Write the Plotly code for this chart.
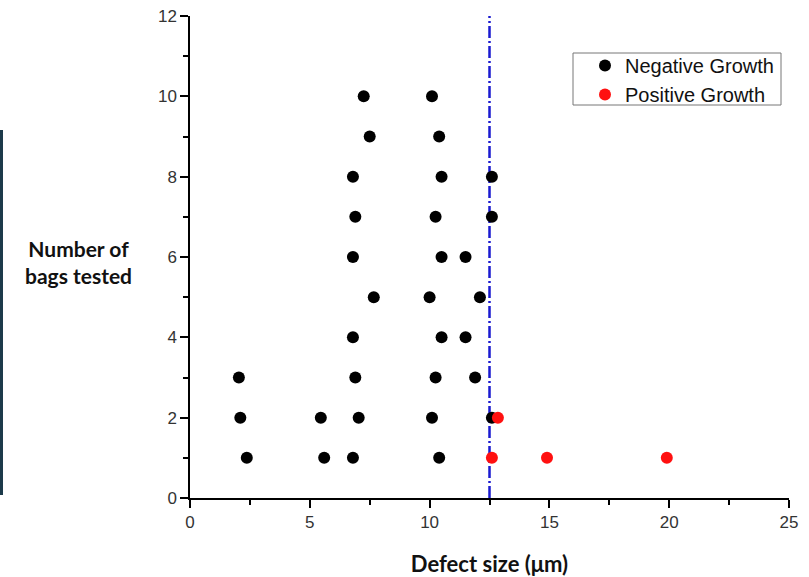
import plotly.graph_objects as go

# Data
neg_x = [7.25, 10.1, 7.5, 10.4, 6.8, 10.5, 12.6, 6.9, 10.25, 12.6, 6.8, 10.5, 11.5,
         7.67, 10.0, 12.1, 6.8, 10.5, 11.5, 2.04, 6.9, 10.25, 11.9, 2.1, 5.46, 7.04,
         10.1, 12.6, 2.37, 5.6, 6.8, 10.4]
neg_y = [10, 10, 9, 9, 8, 8, 8, 7, 7, 7, 6, 6, 6, 5, 5, 5, 4, 4, 4, 3, 3, 3, 3,
         2, 2, 2, 2, 2, 1, 1, 1, 1]
pos_x = [12.85, 12.6, 14.9, 19.9]
pos_y = [2, 1, 1, 1]
threshold = 12.5
x_ticks = [0, 5, 10, 15, 20, 25]
y_ticks = [0, 2, 4, 6, 8, 10, 12]

PW, PH = 599, 482  # plot area size in px (for paper-coordinate placement)

fig = go.Figure()
fig.add_trace(go.Scatter(x=neg_x, y=neg_y, mode="markers", name="Negative Growth",
                         marker=dict(color="black", size=12)))
fig.add_trace(go.Scatter(x=pos_x, y=pos_y, mode="markers", name="Positive Growth",
                         marker=dict(color="#ff1010", size=12)))
fig.add_shape(type="line", xref="x", yref="y", x0=threshold, x1=threshold, y0=0, y1=12,
              line=dict(color="#1a1ad0", width=2.5, dash="12px,3px,2px,3px"), layer="below")

# artifact bar on the left edge
fig.add_shape(type="rect", xref="paper", yref="paper", x0=-190/PW, x1=-187/PW,
              y0=(498-495)/PH, y1=(498-130)/PH, fillcolor="#1c3a4a", line=dict(width=0))

# legend frame
fig.add_shape(type="rect", xref="paper", yref="paper", x0=(573-190)/PW, x1=(781-190)/PW,
              y0=(498-105)/PH, y1=(498-53)/PH, fillcolor="white",
              line=dict(color="#777", width=1), layer="below")

fig.add_annotation(text="<b>Number of<br>bags tested</b>", xref="paper", yref="paper",
                   x=-112/PW, y=(498-262)/PH, xanchor="center", yanchor="middle",
                   showarrow=False, align="center",
                   font=dict(family="Lato, Open Sans, sans-serif", size=21, color="#111"))

fig.update_layout(
    width=809, height=577,
    margin=dict(l=190, r=20, t=16, b=79, autoexpand=False),
    plot_bgcolor="white", paper_bgcolor="white",
    font=dict(family="Liberation Sans, Arial, sans-serif", size=17, color="#333"),
    legend=dict(x=(585-190)/PW, y=(498-80)/PH, xanchor="left", yanchor="middle",
                borderwidth=0, bgcolor="rgba(0,0,0,0)",
                font=dict(family="Liberation Sans, Arial, sans-serif", size=20, color="#111"),
                itemsizing="constant", tracegroupgap=0),
    showlegend=True,
)
fig.update_xaxes(range=[0, 25], tickvals=x_ticks, showgrid=False, zeroline=False, automargin=False,
                 showline=True, linecolor="black", linewidth=1.5,
                 ticks="outside", ticklen=8, tickcolor="black", tickwidth=1.5,
                 tickfont=dict(size=17, color="#333"),
                 minor=dict(dtick=2.5, ticks="outside", ticklen=5, tickcolor="black", tickwidth=1.5),
                 title=dict(text="<b>Defect size (μm)</b>", standoff=28,
                            font=dict(family="Lato, Open Sans, sans-serif", size=22, color="#111")))
fig.update_yaxes(range=[0, 12], tickvals=y_ticks, showgrid=False, zeroline=False, automargin=False,
                 showline=True, linecolor="black", linewidth=1.5,
                 ticks="outside", ticklen=8, tickcolor="black", tickwidth=1.5,
                 tickfont=dict(size=17, color="#333"),
                 minor=dict(dtick=1, ticks="outside", ticklen=5, tickcolor="black", tickwidth=1.5))

fig.write_html("out.html", config={"displayModeBar": False},
               post_script="document.body.style.margin='0';document.body.style.overflow='hidden';")
